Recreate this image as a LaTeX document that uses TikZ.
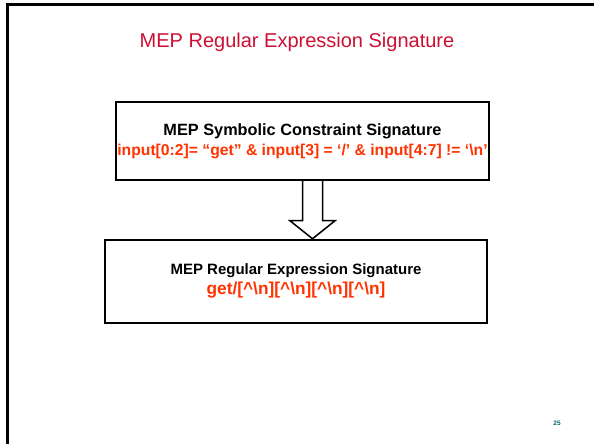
\documentclass[tikz,border=0pt]{standalone}
\usepackage{fontspec}
\setmainfont{Liberation Sans}
\usetikzlibrary{calc}
\definecolor{titlered}{RGB}{204,16,51}
\definecolor{sigred}{RGB}{255,51,0}
\definecolor{pageteal}{RGB}{0,102,102}
\begin{document}
\begin{tikzpicture}[x=1pt,y=1pt,
  sigbox/.style={draw=black,line width=2.5pt,fill=white,inner sep=0pt},
  headtext/.style={inner sep=0pt,font=\fontsize{15}{17}\selectfont\bfseries,text=black},
  hollow/.style={draw=black,line width=1.5pt,fill=white,line join=miter}]
\useasboundingbox (0,0) rectangle (594,444);
\fill[white] (0,0) rectangle (594,444);
% slide frame
\draw[line width=2.5pt] (7.5,0) -- (7.5,439.5) -- (594,439.5);
% title
\node[inner sep=0pt,font=\fontsize{20}{24}\selectfont,text=titlered] (title) at (297,402) {MEP Regular Expression Signature};
% symbolic constraint box
\node[sigbox,minimum width=373pt,minimum height=78pt] (sym) at (302.5,303) {};
\node[headtext,font=\fontsize{16.3}{18}\selectfont\bfseries] (symhead) at (302.5,312.5) {MEP Symbolic Constraint Signature};
\node[inner sep=0pt,font=\fontsize{15.7}{18}\selectfont\bfseries,text=sigred] (symexpr) at (302.5,293) {input[0:2]= “get” \& input[3] = ‘/’ \& input[4:7] != ‘\textbackslash n’};
% regular expression box
\node[sigbox,minimum width=382pt,minimum height=83pt] (reg) at (296,162.5) {};
\node[headtext] (reghead) at (296,173) {MEP Regular Expression Signature};
\node[inner sep=0pt,font=\fontsize{17.3}{20}\selectfont\bfseries,text=sigred] (regexpr) at (296,154) {get/[\^{}\textbackslash n][\^{}\textbackslash n][\^{}\textbackslash n][\^{}\textbackslash n]};
% hollow block arrow between the boxes
\draw[hollow] let \p1=(sym.south), \p2=(reg.north) in
  (\x2+6.5pt,\y1) -- (\x2+6.5pt,\y2+18pt) -- (\x2-6pt,\y2+18pt) -- (\x2+16.5pt,\y2)
  -- (\x2+39pt,\y2+18pt) -- (\x2+26.5pt,\y2+18pt) -- (\x2+26.5pt,\y1);
% page number
\node[inner sep=0pt,font=\fontsize{6.5}{8}\selectfont\bfseries,text=pageteal] (page) at (557,21) {25};
\end{tikzpicture}
\end{document}
